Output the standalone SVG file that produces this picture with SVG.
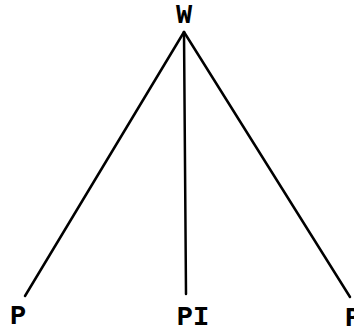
<svg xmlns="http://www.w3.org/2000/svg" width="354" height="329" viewBox="0 0 354 329">
<style>
.t{font-family:"Liberation Mono","Courier New",monospace;font-size:27px;font-weight:bold;fill:#000;text-anchor:middle}
.e{stroke:#000;stroke-width:2.5;fill:none;stroke-linecap:round}
</style>
<rect width="354" height="329" fill="#fff"/>
<g id="connectors">
<line class="e" x1="184" y1="32" x2="25" y2="296"/>
<line class="e" x1="184" y1="32" x2="186" y2="294"/>
<line class="e" x1="184" y1="32" x2="350" y2="297"/>
</g>
<g id="W"><text class="t" x="184" y="23">W</text></g>
<g id="P1"><text class="t" x="18" y="324">P</text></g>
<g id="PI"><text class="t" x="193" y="325">PI</text></g>
<g id="P2"><text class="t" x="353" y="326">P</text></g>
</svg>
